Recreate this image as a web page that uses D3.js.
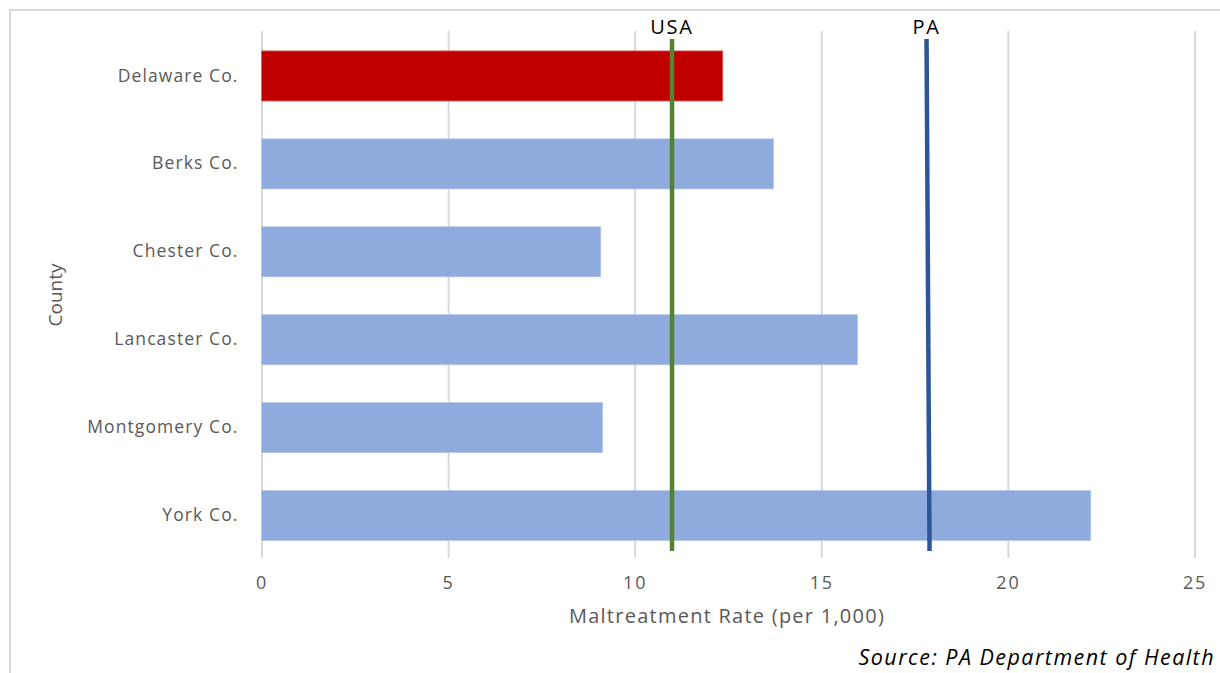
<!DOCTYPE html>
<html><head><meta charset="utf-8">
<script src="https://cdn.jsdelivr.net/npm/d3@7"></script>
<style>body{margin:0;background:#fff}svg{display:block}</style>
</head><body>
<svg id="c" width="1220" height="673"></svg>
<script>
const counties = ["Delaware Co.", "Berks Co.", "Chester Co.", "Lancaster Co.", "Montgomery Co.", "York Co."];
const rates = [12.36, 13.72, 9.09, 15.97, 9.14, 22.22];
const highlight = ["Delaware Co."];
const refNames = ["USA", "PA"];
const refTop = [11.0, 17.82];
const refBottom = [11.0, 17.9];
const refColors = ["#548235", "#2F5597"];
const xTicks = [0, 5, 10, 15, 20, 25];

const svg = d3.select("#c");
const font = "'Open Sans', sans-serif";

// frame
svg.append("rect").attr("x", 10).attr("y", 10).attr("width", 1240).attr("height", 700)
  .attr("fill", "none").attr("stroke", "#d9d9d9").attr("stroke-width", 2);

const x = d3.scaleLinear().domain([0, 25]).range([261.5, 1194.5]);
const y = d3.scaleBand().domain(counties).range([32, 559.5]).paddingInner(0.43).paddingOuter(0.215);

// gridlines
const xAxis = d3.axisBottom(x).tickValues(xTicks).tickSize(527).tickPadding(18);
const gx = svg.append("g").attr("transform", "translate(0,31)").call(xAxis);
gx.select(".domain").remove();
gx.selectAll(".tick line").attr("stroke", "#d9d9d9").attr("stroke-width", 2);
gx.selectAll(".tick text").attr("fill", "#595959").attr("font-family", font).attr("font-size", 18).attr("letter-spacing", 1.8);

// bars
svg.append("g").selectAll("rect").data(counties).join("rect")
  .attr("x", x(0)).attr("y", d => y(d))
  .attr("width", (d, i) => x(rates[i]) - x(0))
  .attr("height", y.bandwidth())
  .attr("fill", d => highlight.includes(d) ? "#C00000" : "#8FAADC")
  .attr("stroke", d => highlight.includes(d) ? "#E06666" : "#B4C7E7")
  .attr("stroke-width", 0.8);

// y labels
const yAxis = d3.axisLeft(y).tickSize(0).tickPadding(23);
const gy = svg.append("g").attr("transform", `translate(${x(0)},0)`).call(yAxis);
gy.select(".domain").remove();
gy.selectAll(".tick text").attr("fill", "#595959").attr("font-family", font).attr("font-size", 17.5).attr("letter-spacing", 1.1);

// reference lines
const refs = refNames.map((n, i) => ({ name: n, top: refTop[i], bottom: refBottom[i], color: refColors[i] }));
svg.append("g").selectAll("line").data(refs).join("line")
  .attr("x1", d => x(d.top)).attr("x2", d => x(d.bottom))
  .attr("y1", 39).attr("y2", 551)
  .attr("stroke", d => d.color).attr("stroke-width", 4.5);
svg.append("g").selectAll("text").data(refs).join("text")
  .attr("x", d => x(d.top)).attr("y", 34)
  .attr("text-anchor", "middle").attr("font-family", font).attr("font-size", 20).attr("letter-spacing", 1.8)
  .attr("fill", "#000").text(d => d.name);

// axis titles
svg.append("text").attr("x", 727).attr("y", 623).attr("text-anchor", "middle")
  .attr("font-family", font).attr("font-size", 20).attr("fill", "#595959").attr("letter-spacing", 1.25)
  .text("Maltreatment Rate (per 1,000)");
svg.append("text").attr("transform", "translate(62,295) rotate(-90)").attr("text-anchor", "middle")
  .attr("font-family", font).attr("font-size", 19).attr("fill", "#595959")
  .text("County");

// source
svg.append("text").attr("x", 1215).attr("y", 665).attr("text-anchor", "end")
  .attr("font-family", font).attr("font-style", "italic").attr("font-size", 21.5).attr("fill", "#000").attr("letter-spacing", 1.45)
  .text("Source: PA Department of Health");
</script>
</body></html>
